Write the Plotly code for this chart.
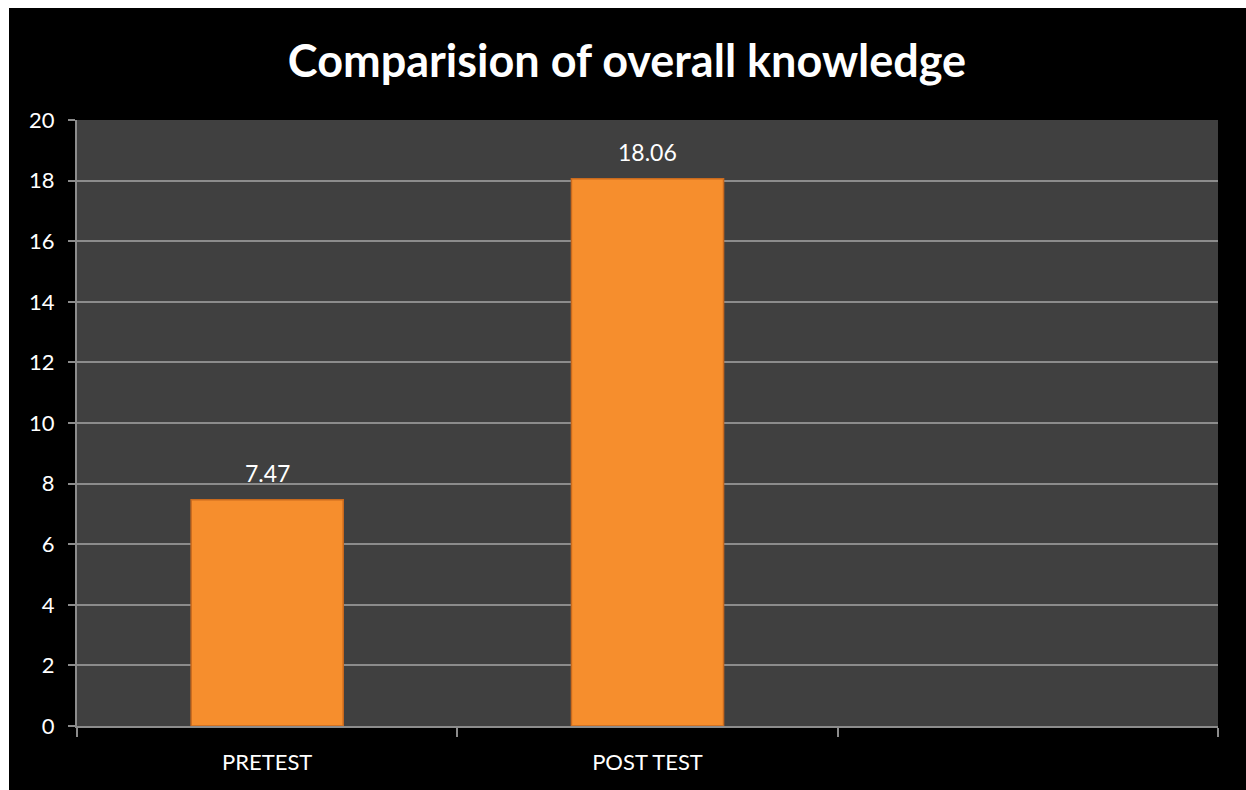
import plotly.graph_objects as go

# Mean knowledge scores
categories = ["PRETEST", "POST TEST", " "]
scores = [7.47, 18.06, None]
score_labels = ["7.47", "18.06", ""]
y_ticks = [0, 2, 4, 6, 8, 10, 12, 14, 16, 18, 20]

W, H = 1246, 790
ML, MR, MT, MB = 77, 28, 120, 64
plot_w = W - ML - MR
plot_h = H - MT - MB
FONT = "Lato, Open Sans, sans-serif"

fig = go.Figure()
fig.add_trace(go.Bar(
    x=categories,
    y=scores,
    width=0.4,
    marker=dict(color="#F68E2D", line=dict(color="#C96A1E", width=1.5)),
    hoverinfo="x+y",
))

# value labels above each bar
for cat, val, lab in zip(categories, scores, score_labels):
    if val is None:
        continue
    fig.add_annotation(x=cat, y=val, text=lab, showarrow=False,
                       yanchor="bottom", yshift=11,
                       font=dict(family=FONT, size=23, color="white"))

axis_gray = "#8C8C8C"
fig.update_layout(
    width=W, height=H,
    margin=dict(l=ML, r=MR, t=MT, b=MB, pad=0),
    paper_bgcolor="black",
    plot_bgcolor="#404040",
    showlegend=False,
    title=dict(
        text="<b>Comparision of overall knowledge</b>",
        x=627 / W, xref="container", xanchor="center",
        y=1 - 61 / H, yref="container", yanchor="middle",
        font=dict(family=FONT, size=45, color="white"),
    ),
    xaxis=dict(
        type="category",
        range=[-0.5, 2.5],
        tickson="boundaries",
        ticks="outside", ticklen=9, tickwidth=2, tickcolor=axis_gray,
        showline=True, linecolor=axis_gray, linewidth=2,
        showgrid=False,
        ticklabelstandoff=16,
        tickfont=dict(family=FONT, size=22, color="white"),
        fixedrange=True,
    ),
    yaxis=dict(
        range=[0, 20],
        tickvals=y_ticks,
        ticks="outside", ticklen=7, tickwidth=2, tickcolor=axis_gray,
        showline=True, linecolor=axis_gray, linewidth=2,
        showgrid=True, gridcolor=axis_gray, gridwidth=2,
        zeroline=False,
        ticklabelstandoff=9,
        tickfont=dict(family=FONT, size=22, color="white"),
        fixedrange=True,
    ),
)

# thin white frame along the top and left edges of the page
fig.add_shape(type="rect", xref="paper", yref="paper", layer="above",
              x0=(0 - ML) / plot_w - 0.01, x1=(9 - ML) / plot_w,
              y0=-MB / plot_h - 0.01, y1=(H - MB) / plot_h + 0.01,
              fillcolor="white", line=dict(width=0))
fig.add_shape(type="rect", xref="paper", yref="paper", layer="above",
              x0=(0 - ML) / plot_w - 0.01, x1=(W - ML) / plot_w + 0.01,
              y0=(H - MB - 8) / plot_h, y1=(H - MB) / plot_h + 0.01,
              fillcolor="white", line=dict(width=0))

fig.write_html("out.html", config={"displayModeBar": False})
